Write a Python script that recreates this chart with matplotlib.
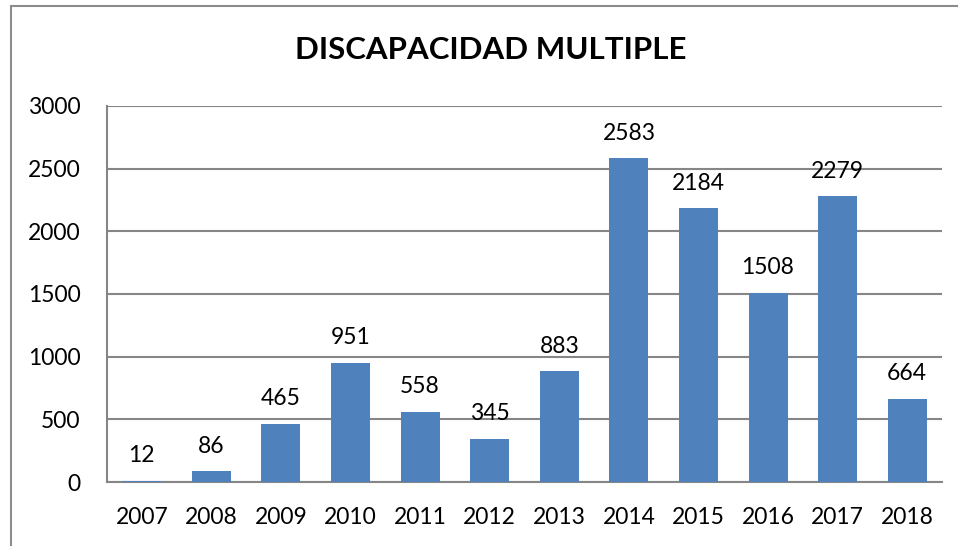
import matplotlib
matplotlib.use("Agg")
import matplotlib.pyplot as plt
from matplotlib.patches import Rectangle

# --- DATA ---
years = ["2007", "2008", "2009", "2010", "2011", "2012",
         "2013", "2014", "2015", "2016", "2017", "2018"]
counts = [12, 86, 465, 951, 558, 345, 883, 2583, 2184, 1508, 2279, 664]
y_ticks = [0, 500, 1000, 1500, 2000, 2500, 3000]

BAR_COLOR = "#4F81BD"
GRID_COLOR = "#868686"
FS = 16.5

plt.rcParams['font.family'] = ['Lato', 'DejaVu Sans']

fig = plt.figure(figsize=(9.58, 5.46), dpi=100)
ax = fig.add_axes([0.1117, 0.1172, 0.8716, 0.6887])

# outer chart frame (runs off the right/bottom edge like the screenshot)
fig.patches.append(Rectangle((11 / 958, -0.1), 1.2, 1 - 6 / 546 + 0.1,
                             transform=fig.transFigure, fill=False,
                             edgecolor="#8c8c8c", linewidth=1.5, zorder=0))

x = range(len(years))
bars = ax.bar(x, counts, width=0.56, color=BAR_COLOR, zorder=3)

for xi, v in zip(x, counts):
    ax.annotate(str(v), (xi, v), xytext=(0, 10.5), textcoords="offset points",
                ha="center", va="bottom", fontsize=FS, color="black")

ax.set_xlim(-0.5, len(years) - 0.5)
ax.set_ylim(0, 3000)
ax.set_yticks(y_ticks)
ax.set_xticks(list(x))
ax.set_xticklabels(years)
ax.tick_params(axis="both", length=0, labelsize=FS)
ax.tick_params(axis="y", pad=19)
ax.tick_params(axis="x", pad=18)

ax.yaxis.grid(True, color=GRID_COLOR, linewidth=1.5, zorder=0)
ax.set_axisbelow(True)
for side in ["top", "right"]:
    ax.spines[side].set_visible(False)
for side in ["left", "bottom"]:
    ax.spines[side].set_color(GRID_COLOR)
    ax.spines[side].set_linewidth(1.5)

fig.text(491 / 958, 1 - 50 / 546, "DISCAPACIDAD MULTIPLE", ha="center",
         va="center", fontsize=22.5, fontweight="bold")

fig.savefig("out.png", dpi=100)
